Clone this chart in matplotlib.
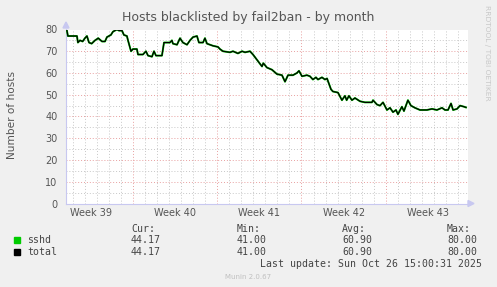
import matplotlib
matplotlib.use("Agg")
import matplotlib.pyplot as plt

# ---- data (x in days since Mon 22 Sep 2025 00:00) ----
days = [1.50, 1.60, 2.35, 2.43, 2.60, 2.82, 3.01, 3.18, 3.35, 3.57, 3.85, 4.12, 4.43, 4.68,
        4.84, 5.17, 5.34, 5.67, 5.84, 6.09, 6.25, 6.50, 6.59, 6.84, 7.00, 7.33, 7.42, 7.83,
        8.08, 8.25, 8.58, 8.75, 8.91, 9.41, 9.58, 10.07, 10.24, 10.32, 10.66, 10.91, 11.15,
        11.49, 11.74, 11.99, 12.32, 12.48, 12.82, 12.98, 13.15, 13.65, 14.06, 14.23, 14.48,
        15.06, 15.31, 15.72, 16.06, 16.31, 16.72, 16.97, 17.38, 17.72, 17.83, 18.13, 18.55,
        18.96, 19.38, 19.63, 19.88, 20.29, 20.62, 20.79, 21.04, 21.45, 21.70, 21.95, 22.20,
        22.37, 22.70, 22.95, 23.12, 23.45, 23.61, 24.03, 24.36, 24.61, 24.75, 24.94, 25.19,
        25.44, 25.86, 26.27, 26.85, 26.94, 27.27, 27.52, 27.77, 28.10, 28.35, 28.60, 28.85,
        29.01, 29.34, 29.51, 29.84, 30.09, 30.42, 30.84, 31.42, 31.84, 32.25, 32.67, 32.92,
        33.17, 33.42, 33.59, 33.92, 34.17, 34.50, 34.66]
sshd = [80, 77, 77, 74, 75, 74.5, 76, 77, 74, 73.5, 75, 76, 74.5, 74.5,
        76.5, 77.5, 79, 80, 79.5, 79.5, 77.5, 77, 75, 70, 71, 71, 68.5, 68.5,
        70, 68, 67.5, 70, 68, 68, 74, 74, 75, 73.5, 73, 76, 74,
        73, 75, 76.5, 77, 74, 74, 76, 73.5, 72.5, 72, 71, 70,
        69.5, 70, 69, 70, 69.5, 70, 68.5, 65.5, 63, 64.5, 62.5, 61.5,
        59.5, 59, 56, 59, 59, 60, 61, 58.5, 59, 58.5, 57, 58,
        57, 58, 57, 57.5, 52.5, 51.5, 51, 47.5, 49.5, 47.5, 49.5, 47.5,
        48.5, 47, 46.5, 46.5, 47.5, 45.5, 45, 46.5, 43, 44, 42, 43,
        41, 44.5, 42.5, 47.5, 45, 44, 43, 43, 43.5, 43, 44, 43,
        43, 46, 43, 43.5, 45, 44.5, 44.17]
total = list(sshd)

week_labels = ["Week 39", "Week 40", "Week 41", "Week 42", "Week 43"]
week_centers = [3.5, 10.5, 17.5, 24.5, 31.5]
week_bounds = [7, 14, 21, 28]
yticks = [0, 10, 20, 30, 40, 50, 60, 70, 80]

series_names = ["sshd", "total"]
series_colors = ["#00cc00", "#000000"]
stats_headers = ["Cur:", "Min:", "Avg:", "Max:"]
stats_values = [["44.17", "41.00", "60.90", "80.00"],
                ["44.17", "41.00", "60.90", "80.00"]]

title = "Hosts blacklisted by fail2ban - by month"
ylabel = "Number of hosts"
last_update = "Last update: Sun Oct 26 15:00:31 2025"
version = "Munin 2.0.67"
side_text = "RRDTOOL / TOBI OETIKER"

# ---- figure ----
W, H = 497, 287
fig = plt.figure(figsize=(W / 100, H / 100), dpi=100, facecolor="#f0f0f0")
px = lambda x: x / W
py = lambda y: 1 - y / H

ax = fig.add_axes([px(66), py(203.5), (468 - 66) / W, (203.5 - 29.5) / H])
ax.set_facecolor("white")
xmin, xmax = 1.44, 34.83
ax.set_xlim(xmin, xmax)
ax.set_ylim(0, 80)

# grid
for d in range(2, 35):
    if d in week_bounds:
        continue
    ax.axvline(d, color="#c8c8c8", lw=0.7, ls=(0, (1, 2)), zorder=1)
for v in range(5, 80, 5):
    if v % 10:
        ax.axhline(v, color="#c8c8c8", lw=0.7, ls=(0, (1, 2)), zorder=1)
for d in week_bounds:
    ax.axvline(d, color="#e8a0a0", lw=0.7, ls=(0, (1, 2)), zorder=1.5)
for v in yticks[1:]:
    ax.axhline(v, color="#e8a0a0", lw=0.7, ls=(0, (1, 2)), zorder=1.5)

ax.plot(days, sshd, color=series_colors[0], lw=1.4, zorder=3, solid_joinstyle="round")
ax.plot(days, total, color=series_colors[1], lw=0.9, zorder=4)

for s in ["top", "right"]:
    ax.spines[s].set_visible(False)
for s in ["left", "bottom"]:
    ax.spines[s].set_color("#c8c8f0")
    ax.spines[s].set_linewidth(0.8)

ax.set_yticks(yticks)
ax.set_yticklabels([str(v) for v in yticks])
ax.set_xticks(week_centers)
ax.set_xticklabels(week_labels)
ax.tick_params(axis="both", length=0, labelsize=7, colors="#555555")
ax.tick_params(axis="y", pad=6)
ax.tick_params(axis="x", pad=3)

# arrows
fig.patches.append(matplotlib.patches.Polygon(
    [(px(63), py(28)), (px(69), py(28)), (px(66), py(22))],
    closed=True, transform=fig.transFigure, color="#c8c8f0", zorder=5))
fig.patches.append(matplotlib.patches.Polygon(
    [(px(468), py(200.5)), (px(468), py(206.5)), (px(474), py(203.5))],
    closed=True, transform=fig.transFigure, color="#c8c8f0", zorder=5))

# texts
fig.text(px(248), py(18), title, ha="center", va="center", fontsize=9, color="#555555")
fig.text(px(12), py(115), ylabel, ha="center", va="center", rotation=90, fontsize=7.6,
         color="#555555")
fig.text(px(487), py(5), side_text, ha="center", va="top", rotation=270, fontsize=5.4,
         color="#c8c8c8")

mono = "DejaVu Sans Mono"
col_x = [131, 237, 342, 447]
for x, h in zip(col_x, stats_headers):
    fig.text(px(x), py(228.5), h, ha="left", va="center", fontsize=7.1, family=mono,
             color="#444444")
row_y = [240, 252]
for y, name, col, vals in zip(row_y, series_names, series_colors, stats_values):
    fig.patches.append(matplotlib.patches.Rectangle(
        (px(14), py(y + 3)), 6 / W, 6 / H, transform=fig.transFigure, color=col))
    fig.text(px(27), py(y), name, ha="left", va="center", fontsize=7.1, family=mono,
             color="#444444")
    for x, v in zip(col_x, vals):
        fig.text(px(x), py(y), v, ha="left", va="center", fontsize=7.1, family=mono,
                 color="#444444")
fig.text(px(482), py(264), last_update, ha="right", va="center", fontsize=7.1, family=mono,
         color="#444444")
fig.text(px(248), py(277), version, ha="center", va="center", fontsize=5, color="#c0c0c0")

fig.savefig("out.png", dpi=100, facecolor=fig.get_facecolor())
